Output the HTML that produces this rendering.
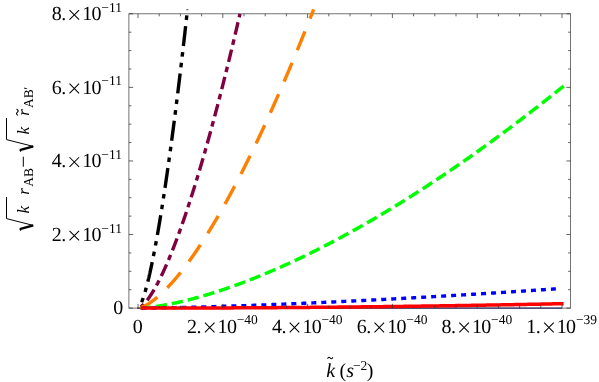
<!DOCTYPE html>
<html><head><meta charset="utf-8"><title>plot</title><style>
html,body{margin:0;padding:0;background:#fff;}body{width:599px;height:382px;overflow:hidden;font-family:"Liberation Serif",serif;}svg{display:block;}
</style></head><body>
<svg width="599" height="382" viewBox="0 0 599 382">
<rect x="0" y="0" width="599" height="382" fill="#fff"/>
<rect x="128.9" y="13.8" width="441.7" height="294.3" fill="none" stroke="#505050" stroke-width="0.8"/>
<line x1="137.0" y1="308.1" x2="562.0" y2="308.1" stroke="#33336b" stroke-width="1.1"/>
<path d="M140.50,304.71 L140.62,304.47 L140.73,304.22 L140.85,303.97 L140.97,303.72 L141.08,303.46 L141.20,303.19 L141.32,302.92 L141.43,302.65 L141.55,302.37 L141.66,302.08 L141.78,301.80 L141.90,301.50 L142.01,301.21 L142.13,300.90 L142.25,300.60 L142.36,300.29 L142.48,299.97 L142.59,299.65 L142.71,299.33 L142.83,299.00 L142.94,298.67 L143.06,298.34 L143.18,298.00 L143.29,297.66 L143.41,297.31 L143.53,296.96 L143.64,296.61 L143.76,296.25 L143.87,295.89 L143.99,295.53 L144.11,295.16 L144.22,294.79 L144.34,294.41 L144.46,294.04 L144.57,293.65 L144.69,293.27 L144.80,292.88 L144.92,292.49 L145.04,292.09 L145.15,291.69 L145.27,291.29 L145.39,290.89 L145.50,290.48 L145.62,290.07 L145.74,289.65 L145.85,289.24 L145.97,288.82 L146.08,288.39 L146.20,287.96 L146.32,287.53 L146.43,287.10 L146.55,286.67 L146.67,286.23 L146.78,285.79 L146.90,285.34 L147.01,284.89 L147.13,284.44 L147.25,283.99 L147.36,283.53 L147.48,283.07 L147.60,282.61 L147.71,282.15 L147.83,281.68 L147.94,281.21 L148.06,280.74 L148.18,280.26 L148.29,279.78 L148.41,279.30 L148.53,278.82 L148.64,278.33 L148.76,277.84 L148.88,277.35 L148.99,276.85 L149.11,276.36 L149.22,275.86 L149.34,275.35 L149.46,274.85 L149.57,274.34 L149.69,273.83 L149.81,273.32 L149.92,272.80 L150.04,272.29 L150.15,271.77 L150.27,271.24 L150.39,270.72 L150.50,270.19 L150.62,269.66 L150.74,269.13 L150.85,268.59 L150.97,268.05 L151.08,267.51 L151.20,266.97 L151.32,266.43 L151.43,265.88 L151.55,265.33 L151.67,264.78 L151.78,264.23 L151.90,263.67 L152.02,263.11 L152.13,262.55 L152.25,261.99 L152.36,261.42 L152.48,260.85 L152.60,260.28 L152.71,259.71 L152.83,259.13 L152.95,258.56 L153.06,257.98 L153.18,257.40 L153.29,256.81 L153.41,256.23 L153.53,255.64 L153.64,255.05 L153.76,254.45 L153.88,253.86 L153.99,253.26 L154.11,252.66 L154.22,252.06 L154.34,251.46 L154.46,250.85 L154.57,250.24 L154.69,249.63 L154.81,249.02 L154.92,248.41 L155.04,247.79 L155.16,247.17 L155.27,246.55 L155.39,245.93 L155.50,245.30 L155.62,244.68 L155.74,244.05 L155.85,243.42 L155.97,242.78 L156.09,242.15 L156.20,241.51 L156.32,240.87 L156.43,240.23 L156.55,239.59 L156.67,238.94 L156.78,238.30 L156.90,237.65 L157.02,237.00 L157.13,236.34 L157.25,235.69 L157.36,235.03 L157.48,234.37 L157.60,233.71 L157.71,233.05 L157.83,232.38 L157.95,231.71 L158.06,231.05 L158.18,230.37 L158.30,229.70 L158.41,229.03 L158.53,228.35 L158.64,227.67 L158.76,226.99 L158.88,226.31 L158.99,225.62 L159.11,224.94 L159.23,224.25 L159.34,223.56 L159.46,222.87 L159.57,222.17 L159.69,221.48 L159.81,220.78 L159.92,220.08 L160.04,219.38 L160.16,218.68 L160.27,217.97 L160.39,217.26 L160.50,216.56 L160.62,215.84 L160.74,215.13 L160.85,214.42 L160.97,213.70 L161.09,212.98 L161.20,212.26 L161.32,211.54 L161.44,210.82 L161.55,210.09 L161.67,209.37 L161.78,208.64 L161.90,207.91 L162.02,207.18 L162.13,206.44 L162.25,205.71 L162.37,204.97 L162.48,204.23 L162.60,203.49 L162.71,202.75 L162.83,202.00 L162.95,201.26 L163.06,200.51 L163.18,199.76 L163.30,199.01 L163.41,198.25 L163.53,197.50 L163.65,196.74 L163.76,195.98 L163.88,195.22 L163.99,194.46 L164.11,193.70 L164.23,192.93 L164.34,192.17 L164.46,191.40 L164.58,190.63 L164.69,189.86 L164.81,189.08 L164.92,188.31 L165.04,187.53 L165.16,186.75 L165.27,185.97 L165.39,185.19 L165.51,184.40 L165.62,183.62 L165.74,182.83 L165.85,182.04 L165.97,181.25 L166.09,180.46 L166.20,179.67 L166.32,178.87 L166.44,178.08 L166.55,177.28 L166.67,176.48 L166.79,175.68 L166.90,174.87 L167.02,174.07 L167.13,173.26 L167.25,172.45 L167.37,171.64 L167.48,170.83 L167.60,170.02 L167.72,169.20 L167.83,168.39 L167.95,167.57 L168.06,166.75 L168.18,165.93 L168.30,165.11 L168.41,164.28 L168.53,163.46 L168.65,162.63 L168.76,161.80 L168.88,160.97 L168.99,160.14 L169.11,159.30 L169.23,158.47 L169.34,157.63 L169.46,156.79 L169.58,155.96 L169.69,155.11 L169.81,154.27 L169.93,153.43 L170.04,152.58 L170.16,151.73 L170.27,150.88 L170.39,150.03 L170.51,149.18 L170.62,148.33 L170.74,147.47 L170.86,146.62 L170.97,145.76 L171.09,144.90 L171.20,144.04 L171.32,143.17 L171.44,142.31 L171.55,141.44 L171.67,140.58 L171.79,139.71 L171.90,138.84 L172.02,137.97 L172.13,137.09 L172.25,136.22 L172.37,135.34 L172.48,134.46 L172.60,133.59 L172.72,132.71 L172.83,131.82 L172.95,130.94 L173.07,130.05 L173.18,129.17 L173.30,128.28 L173.41,127.39 L173.53,126.50 L173.65,125.61 L173.76,124.71 L173.88,123.82 L174.00,122.92 L174.11,122.02 L174.23,121.12 L174.34,120.22 L174.46,119.32 L174.58,118.42 L174.69,117.51 L174.81,116.60 L174.93,115.70 L175.04,114.79 L175.16,113.87 L175.27,112.96 L175.39,112.05 L175.51,111.13 L175.62,110.22 L175.74,109.30 L175.86,108.38 L175.97,107.46 L176.09,106.53 L176.21,105.61 L176.32,104.69 L176.44,103.76 L176.55,102.83 L176.67,101.90 L176.79,100.97 L176.90,100.04 L177.02,99.10 L177.14,98.17 L177.25,97.23 L177.37,96.30 L177.48,95.36 L177.60,94.42 L177.72,93.47 L177.83,92.53 L177.95,91.59 L178.07,90.64 L178.18,89.69 L178.30,88.74 L178.41,87.79 L178.53,86.84 L178.65,85.89 L178.76,84.93 L178.88,83.98 L179.00,83.02 L179.11,82.06 L179.23,81.10 L179.35,80.14 L179.46,79.18 L179.58,78.21 L179.69,77.25 L179.81,76.28 L179.93,75.32 L180.04,74.35 L180.16,73.38 L180.28,72.40 L180.39,71.43 L180.51,70.46 L180.62,69.48 L180.74,68.50 L180.86,67.52 L180.97,66.54 L181.09,65.56 L181.21,64.58 L181.32,63.60 L181.44,62.61 L181.56,61.62 L181.67,60.64 L181.79,59.65 L181.90,58.66 L182.02,57.67 L182.14,56.67 L182.25,55.68 L182.37,54.68 L182.49,53.69 L182.60,52.69 L182.72,51.69 L182.83,50.69 L182.95,49.68 L183.07,48.68 L183.18,47.68 L183.30,46.67 L183.42,45.66 L183.53,44.65 L183.65,43.64 L183.76,42.63 L183.88,41.62 L184.00,40.61 L184.11,39.59 L184.23,38.57 L184.35,37.56 L184.46,36.54 L184.58,35.52 L184.70,34.50 L184.81,33.47 L184.93,32.45 L185.04,31.42 L185.16,30.40 L185.28,29.37 L185.39,28.34 L185.51,27.31 L185.63,26.28 L185.74,25.24 L185.86,24.21 L185.97,23.18 L186.09,22.14 L186.21,21.10 L186.32,20.06 L186.44,19.02 L186.56,17.98 L186.67,16.94 L186.79,15.89 L186.90,14.85 L187.02,13.80" fill="none" stroke="#000000" stroke-width="3.4" stroke-dasharray="20 6.2 4.55 6.2 4.55 6.2" stroke-dashoffset="23.5"/>
<path d="M140.50,306.97 L140.75,306.80 L141.00,306.62 L141.25,306.43 L141.50,306.23 L141.75,306.03 L141.99,305.82 L142.24,305.60 L142.49,305.38 L142.74,305.15 L142.99,304.92 L143.24,304.68 L143.49,304.43 L143.74,304.18 L143.98,303.92 L144.23,303.65 L144.48,303.39 L144.73,303.11 L144.98,302.83 L145.23,302.55 L145.48,302.26 L145.73,301.97 L145.97,301.67 L146.22,301.36 L146.47,301.06 L146.72,300.74 L146.97,300.43 L147.22,300.10 L147.47,299.78 L147.72,299.45 L147.96,299.11 L148.21,298.78 L148.46,298.43 L148.71,298.09 L148.96,297.74 L149.21,297.38 L149.46,297.02 L149.71,296.66 L149.95,296.29 L150.20,295.92 L150.45,295.55 L150.70,295.17 L150.95,294.79 L151.20,294.40 L151.45,294.01 L151.70,293.62 L151.94,293.22 L152.19,292.82 L152.44,292.42 L152.69,292.01 L152.94,291.60 L153.19,291.19 L153.44,290.77 L153.69,290.35 L153.93,289.93 L154.18,289.50 L154.43,289.07 L154.68,288.64 L154.93,288.20 L155.18,287.76 L155.43,287.32 L155.68,286.87 L155.92,286.42 L156.17,285.97 L156.42,285.51 L156.67,285.05 L156.92,284.59 L157.17,284.13 L157.42,283.66 L157.67,283.19 L157.91,282.71 L158.16,282.24 L158.41,281.76 L158.66,281.27 L158.91,280.79 L159.16,280.30 L159.41,279.81 L159.66,279.31 L159.90,278.81 L160.15,278.31 L160.40,277.81 L160.65,277.30 L160.90,276.80 L161.15,276.28 L161.40,275.77 L161.65,275.25 L161.89,274.73 L162.14,274.21 L162.39,273.69 L162.64,273.16 L162.89,272.63 L163.14,272.09 L163.39,271.56 L163.64,271.02 L163.88,270.48 L164.13,269.94 L164.38,269.39 L164.63,268.84 L164.88,268.29 L165.13,267.74 L165.38,267.18 L165.63,266.62 L165.87,266.06 L166.12,265.49 L166.37,264.93 L166.62,264.36 L166.87,263.79 L167.12,263.21 L167.37,262.64 L167.62,262.06 L167.86,261.48 L168.11,260.89 L168.36,260.31 L168.61,259.72 L168.86,259.13 L169.11,258.53 L169.36,257.94 L169.61,257.34 L169.85,256.74 L170.10,256.14 L170.35,255.53 L170.60,254.92 L170.85,254.31 L171.10,253.70 L171.35,253.09 L171.60,252.47 L171.84,251.85 L172.09,251.23 L172.34,250.61 L172.59,249.98 L172.84,249.35 L173.09,248.72 L173.34,248.09 L173.59,247.46 L173.83,246.82 L174.08,246.18 L174.33,245.54 L174.58,244.89 L174.83,244.25 L175.08,243.60 L175.33,242.95 L175.58,242.30 L175.82,241.64 L176.07,240.99 L176.32,240.33 L176.57,239.67 L176.82,239.00 L177.07,238.34 L177.32,237.67 L177.57,237.00 L177.81,236.33 L178.06,235.66 L178.31,234.98 L178.56,234.30 L178.81,233.62 L179.06,232.94 L179.31,232.26 L179.56,231.57 L179.80,230.88 L180.05,230.19 L180.30,229.50 L180.55,228.81 L180.80,228.11 L181.05,227.41 L181.30,226.71 L181.55,226.01 L181.79,225.31 L182.04,224.60 L182.29,223.89 L182.54,223.18 L182.79,222.47 L183.04,221.75 L183.29,221.04 L183.54,220.32 L183.78,219.60 L184.03,218.88 L184.28,218.15 L184.53,217.43 L184.78,216.70 L185.03,215.97 L185.28,215.24 L185.53,214.50 L185.77,213.77 L186.02,213.03 L186.27,212.29 L186.52,211.55 L186.77,210.80 L187.02,210.06 L187.27,209.31 L187.52,208.56 L187.76,207.81 L188.01,207.06 L188.26,206.30 L188.51,205.55 L188.76,204.79 L189.01,204.03 L189.26,203.27 L189.51,202.50 L189.75,201.74 L190.00,200.97 L190.25,200.20 L190.50,199.43 L190.75,198.65 L191.00,197.88 L191.25,197.10 L191.50,196.32 L191.74,195.54 L191.99,194.76 L192.24,193.98 L192.49,193.19 L192.74,192.40 L192.99,191.61 L193.24,190.82 L193.49,190.03 L193.73,189.23 L193.98,188.44 L194.23,187.64 L194.48,186.84 L194.73,186.04 L194.98,185.23 L195.23,184.43 L195.48,183.62 L195.72,182.81 L195.97,182.00 L196.22,181.19 L196.47,180.37 L196.72,179.56 L196.97,178.74 L197.22,177.92 L197.47,177.10 L197.71,176.28 L197.96,175.45 L198.21,174.62 L198.46,173.80 L198.71,172.97 L198.96,172.14 L199.21,171.30 L199.46,170.47 L199.70,169.63 L199.95,168.79 L200.20,167.95 L200.45,167.11 L200.70,166.27 L200.95,165.42 L201.20,164.58 L201.45,163.73 L201.69,162.88 L201.94,162.03 L202.19,161.17 L202.44,160.32 L202.69,159.46 L202.94,158.61 L203.19,157.75 L203.44,156.88 L203.68,156.02 L203.93,155.16 L204.18,154.29 L204.43,153.42 L204.68,152.55 L204.93,151.68 L205.18,150.81 L205.43,149.93 L205.67,149.06 L205.92,148.18 L206.17,147.30 L206.42,146.42 L206.67,145.54 L206.92,144.65 L207.17,143.77 L207.42,142.88 L207.66,141.99 L207.91,141.10 L208.16,140.21 L208.41,139.31 L208.66,138.42 L208.91,137.52 L209.16,136.62 L209.41,135.72 L209.65,134.82 L209.90,133.92 L210.15,133.02 L210.40,132.11 L210.65,131.20 L210.90,130.29 L211.15,129.38 L211.40,128.47 L211.64,127.55 L211.89,126.64 L212.14,125.72 L212.39,124.80 L212.64,123.88 L212.89,122.96 L213.14,122.04 L213.39,121.11 L213.63,120.19 L213.88,119.26 L214.13,118.33 L214.38,117.40 L214.63,116.47 L214.88,115.53 L215.13,114.60 L215.38,113.66 L215.62,112.72 L215.87,111.78 L216.12,110.84 L216.37,109.90 L216.62,108.95 L216.87,108.01 L217.12,107.06 L217.37,106.11 L217.61,105.16 L217.86,104.21 L218.11,103.26 L218.36,102.30 L218.61,101.35 L218.86,100.39 L219.11,99.43 L219.36,98.47 L219.60,97.51 L219.85,96.54 L220.10,95.58 L220.35,94.61 L220.60,93.64 L220.85,92.67 L221.10,91.70 L221.35,90.73 L221.59,89.76 L221.84,88.78 L222.09,87.80 L222.34,86.82 L222.59,85.85 L222.84,84.86 L223.09,83.88 L223.34,82.90 L223.58,81.91 L223.83,80.93 L224.08,79.94 L224.33,78.95 L224.58,77.96 L224.83,76.96 L225.08,75.97 L225.33,74.97 L225.57,73.98 L225.82,72.98 L226.07,71.98 L226.32,70.98 L226.57,69.98 L226.82,68.97 L227.07,67.97 L227.32,66.96 L227.56,65.95 L227.81,64.94 L228.06,63.93 L228.31,62.92 L228.56,61.91 L228.81,60.89 L229.06,59.87 L229.31,58.86 L229.55,57.84 L229.80,56.82 L230.05,55.79 L230.30,54.77 L230.55,53.75 L230.80,52.72 L231.05,51.69 L231.30,50.66 L231.54,49.63 L231.79,48.60 L232.04,47.57 L232.29,46.53 L232.54,45.50 L232.79,44.46 L233.04,43.42 L233.29,42.38 L233.53,41.34 L233.78,40.30 L234.03,39.26 L234.28,38.21 L234.53,37.16 L234.78,36.12 L235.03,35.07 L235.28,34.02 L235.52,32.96 L235.77,31.91 L236.02,30.86 L236.27,29.80 L236.52,28.74 L236.77,27.68 L237.02,26.62 L237.27,25.56 L237.51,24.50 L237.76,23.44 L238.01,22.37 L238.26,21.30 L238.51,20.24 L238.76,19.17 L239.01,18.10 L239.26,17.02 L239.50,15.95 L239.75,14.88 L240.00,13.80" fill="none" stroke="#800040" stroke-width="3.4" stroke-dasharray="12.7 4.95 5.5 4.95" stroke-dashoffset="18.7"/>
<path d="M140.50,307.59 L140.93,307.46 L141.37,307.31 L141.80,307.15 L142.23,306.98 L142.67,306.81 L143.10,306.62 L143.53,306.43 L143.96,306.23 L144.40,306.02 L144.83,305.81 L145.26,305.59 L145.70,305.36 L146.13,305.13 L146.56,304.89 L147.00,304.64 L147.43,304.39 L147.86,304.13 L148.29,303.86 L148.73,303.59 L149.16,303.32 L149.59,303.04 L150.03,302.75 L150.46,302.46 L150.89,302.16 L151.32,301.86 L151.76,301.55 L152.19,301.24 L152.62,300.93 L153.06,300.60 L153.49,300.28 L153.92,299.95 L154.35,299.61 L154.79,299.28 L155.22,298.93 L155.65,298.58 L156.09,298.23 L156.52,297.87 L156.95,297.51 L157.38,297.15 L157.82,296.78 L158.25,296.41 L158.68,296.03 L159.12,295.65 L159.55,295.27 L159.98,294.88 L160.42,294.48 L160.85,294.09 L161.28,293.69 L161.71,293.28 L162.15,292.88 L162.58,292.46 L163.01,292.05 L163.45,291.63 L163.88,291.21 L164.31,290.78 L164.74,290.35 L165.18,289.92 L165.61,289.49 L166.04,289.05 L166.48,288.60 L166.91,288.16 L167.34,287.71 L167.77,287.25 L168.21,286.80 L168.64,286.34 L169.07,285.88 L169.51,285.41 L169.94,284.94 L170.37,284.47 L170.80,283.99 L171.24,283.51 L171.67,283.03 L172.10,282.55 L172.54,282.06 L172.97,281.57 L173.40,281.07 L173.84,280.58 L174.27,280.08 L174.70,279.57 L175.13,279.07 L175.57,278.56 L176.00,278.05 L176.43,277.53 L176.87,277.01 L177.30,276.49 L177.73,275.97 L178.16,275.44 L178.60,274.91 L179.03,274.38 L179.46,273.84 L179.90,273.31 L180.33,272.77 L180.76,272.22 L181.19,271.68 L181.63,271.13 L182.06,270.58 L182.49,270.02 L182.93,269.46 L183.36,268.90 L183.79,268.34 L184.22,267.78 L184.66,267.21 L185.09,266.64 L185.52,266.07 L185.96,265.49 L186.39,264.91 L186.82,264.33 L187.25,263.75 L187.69,263.16 L188.12,262.57 L188.55,261.98 L188.99,261.39 L189.42,260.79 L189.85,260.19 L190.29,259.59 L190.72,258.99 L191.15,258.38 L191.58,257.77 L192.02,257.16 L192.45,256.55 L192.88,255.93 L193.32,255.32 L193.75,254.69 L194.18,254.07 L194.61,253.45 L195.05,252.82 L195.48,252.19 L195.91,251.55 L196.35,250.92 L196.78,250.28 L197.21,249.64 L197.64,249.00 L198.08,248.35 L198.51,247.71 L198.94,247.06 L199.38,246.41 L199.81,245.75 L200.24,245.10 L200.67,244.44 L201.11,243.78 L201.54,243.11 L201.97,242.45 L202.41,241.78 L202.84,241.11 L203.27,240.44 L203.71,239.77 L204.14,239.09 L204.57,238.41 L205.00,237.73 L205.44,237.05 L205.87,236.36 L206.30,235.67 L206.74,234.98 L207.17,234.29 L207.60,233.60 L208.03,232.90 L208.47,232.20 L208.90,231.50 L209.33,230.80 L209.77,230.10 L210.20,229.39 L210.63,228.68 L211.06,227.97 L211.50,227.26 L211.93,226.54 L212.36,225.82 L212.80,225.10 L213.23,224.38 L213.66,223.66 L214.09,222.93 L214.53,222.21 L214.96,221.48 L215.39,220.74 L215.83,220.01 L216.26,219.27 L216.69,218.54 L217.13,217.80 L217.56,217.05 L217.99,216.31 L218.42,215.56 L218.86,214.81 L219.29,214.06 L219.72,213.31 L220.16,212.56 L220.59,211.80 L221.02,211.04 L221.45,210.28 L221.89,209.52 L222.32,208.76 L222.75,207.99 L223.19,207.22 L223.62,206.45 L224.05,205.68 L224.48,204.91 L224.92,204.13 L225.35,203.35 L225.78,202.57 L226.22,201.79 L226.65,201.01 L227.08,200.22 L227.51,199.44 L227.95,198.65 L228.38,197.86 L228.81,197.06 L229.25,196.27 L229.68,195.47 L230.11,194.67 L230.55,193.87 L230.98,193.07 L231.41,192.27 L231.84,191.46 L232.28,190.65 L232.71,189.84 L233.14,189.03 L233.58,188.22 L234.01,187.40 L234.44,186.58 L234.87,185.77 L235.31,184.94 L235.74,184.12 L236.17,183.30 L236.61,182.47 L237.04,181.64 L237.47,180.81 L237.90,179.98 L238.34,179.15 L238.77,178.31 L239.20,177.47 L239.64,176.63 L240.07,175.79 L240.50,174.95 L240.93,174.11 L241.37,173.26 L241.80,172.41 L242.23,171.56 L242.67,170.71 L243.10,169.86 L243.53,169.00 L243.97,168.15 L244.40,167.29 L244.83,166.43 L245.26,165.57 L245.70,164.70 L246.13,163.84 L246.56,162.97 L247.00,162.10 L247.43,161.23 L247.86,160.36 L248.29,159.48 L248.73,158.61 L249.16,157.73 L249.59,156.85 L250.03,155.97 L250.46,155.09 L250.89,154.20 L251.32,153.32 L251.76,152.43 L252.19,151.54 L252.62,150.65 L253.06,149.76 L253.49,148.86 L253.92,147.96 L254.35,147.07 L254.79,146.17 L255.22,145.27 L255.65,144.36 L256.09,143.46 L256.52,142.55 L256.95,141.64 L257.39,140.74 L257.82,139.82 L258.25,138.91 L258.68,138.00 L259.12,137.08 L259.55,136.16 L259.98,135.24 L260.42,134.32 L260.85,133.40 L261.28,132.48 L261.71,131.55 L262.15,130.62 L262.58,129.69 L263.01,128.76 L263.45,127.83 L263.88,126.90 L264.31,125.96 L264.74,125.02 L265.18,124.09 L265.61,123.14 L266.04,122.20 L266.48,121.26 L266.91,120.31 L267.34,119.37 L267.77,118.42 L268.21,117.47 L268.64,116.52 L269.07,115.56 L269.51,114.61 L269.94,113.65 L270.37,112.70 L270.80,111.74 L271.24,110.78 L271.67,109.81 L272.10,108.85 L272.54,107.88 L272.97,106.92 L273.40,105.95 L273.84,104.98 L274.27,104.01 L274.70,103.03 L275.13,102.06 L275.57,101.08 L276.00,100.10 L276.43,99.12 L276.87,98.14 L277.30,97.16 L277.73,96.18 L278.16,95.19 L278.60,94.20 L279.03,93.21 L279.46,92.22 L279.90,91.23 L280.33,90.24 L280.76,89.25 L281.19,88.25 L281.63,87.25 L282.06,86.25 L282.49,85.25 L282.93,84.25 L283.36,83.25 L283.79,82.24 L284.22,81.23 L284.66,80.23 L285.09,79.22 L285.52,78.20 L285.96,77.19 L286.39,76.18 L286.82,75.16 L287.26,74.14 L287.69,73.13 L288.12,72.11 L288.55,71.08 L288.99,70.06 L289.42,69.04 L289.85,68.01 L290.29,66.98 L290.72,65.95 L291.15,64.92 L291.58,63.89 L292.02,62.86 L292.45,61.82 L292.88,60.79 L293.32,59.75 L293.75,58.71 L294.18,57.67 L294.61,56.63 L295.05,55.59 L295.48,54.54 L295.91,53.50 L296.35,52.45 L296.78,51.40 L297.21,50.35 L297.64,49.30 L298.08,48.24 L298.51,47.19 L298.94,46.13 L299.38,45.07 L299.81,44.01 L300.24,42.95 L300.68,41.89 L301.11,40.83 L301.54,39.76 L301.97,38.70 L302.41,37.63 L302.84,36.56 L303.27,35.49 L303.71,34.42 L304.14,33.35 L304.57,32.27 L305.00,31.20 L305.44,30.12 L305.87,29.04 L306.30,27.96 L306.74,26.88 L307.17,25.79 L307.60,24.71 L308.03,23.62 L308.47,22.54 L308.90,21.45 L309.33,20.36 L309.77,19.27 L310.20,18.18 L310.63,17.08 L311.06,15.99 L311.50,14.89 L311.93,13.79 L312.36,12.69 L312.80,11.59 L313.23,10.49 L313.66,9.39" fill="none" stroke="#ff8000" stroke-width="3.4" stroke-dasharray="20.3 13.7" stroke-dashoffset="0.4"/>
<path d="M140.50,308.02 L141.56,307.96 L142.62,307.90 L143.67,307.82 L144.73,307.73 L145.79,307.64 L146.85,307.54 L147.91,307.43 L148.96,307.32 L150.02,307.20 L151.08,307.08 L152.14,306.95 L153.19,306.81 L154.25,306.67 L155.31,306.52 L156.37,306.37 L157.43,306.22 L158.48,306.05 L159.54,305.89 L160.60,305.72 L161.66,305.55 L162.71,305.37 L163.77,305.18 L164.83,305.00 L165.89,304.81 L166.95,304.61 L168.00,304.41 L169.06,304.21 L170.12,304.00 L171.18,303.79 L172.23,303.58 L173.29,303.36 L174.35,303.14 L175.41,302.91 L176.47,302.69 L177.52,302.45 L178.58,302.22 L179.64,301.98 L180.70,301.74 L181.75,301.49 L182.81,301.25 L183.87,300.99 L184.93,300.74 L185.99,300.48 L187.04,300.22 L188.10,299.96 L189.16,299.69 L190.22,299.42 L191.27,299.15 L192.33,298.87 L193.39,298.59 L194.45,298.31 L195.51,298.02 L196.56,297.74 L197.62,297.44 L198.68,297.15 L199.74,296.85 L200.79,296.56 L201.85,296.25 L202.91,295.95 L203.97,295.64 L205.03,295.33 L206.08,295.02 L207.14,294.70 L208.20,294.39 L209.26,294.07 L210.31,293.74 L211.37,293.42 L212.43,293.09 L213.49,292.76 L214.55,292.42 L215.60,292.09 L216.66,291.75 L217.72,291.41 L218.78,291.07 L219.83,290.72 L220.89,290.37 L221.95,290.02 L223.01,289.67 L224.07,289.31 L225.12,288.95 L226.18,288.59 L227.24,288.23 L228.30,287.87 L229.35,287.50 L230.41,287.13 L231.47,286.76 L232.53,286.38 L233.59,286.01 L234.64,285.63 L235.70,285.25 L236.76,284.86 L237.82,284.48 L238.87,284.09 L239.93,283.70 L240.99,283.31 L242.05,282.91 L243.11,282.52 L244.16,282.12 L245.22,281.72 L246.28,281.31 L247.34,280.91 L248.39,280.50 L249.45,280.09 L250.51,279.68 L251.57,279.26 L252.63,278.85 L253.68,278.43 L254.74,278.01 L255.80,277.59 L256.86,277.16 L257.91,276.74 L258.97,276.31 L260.03,275.88 L261.09,275.44 L262.15,275.01 L263.20,274.57 L264.26,274.13 L265.32,273.69 L266.38,273.25 L267.43,272.81 L268.49,272.36 L269.55,271.91 L270.61,271.46 L271.67,271.01 L272.72,270.55 L273.78,270.10 L274.84,269.64 L275.90,269.18 L276.95,268.72 L278.01,268.25 L279.07,267.79 L280.13,267.32 L281.19,266.85 L282.24,266.38 L283.30,265.90 L284.36,265.43 L285.42,264.95 L286.47,264.47 L287.53,263.99 L288.59,263.51 L289.65,263.02 L290.71,262.54 L291.76,262.05 L292.82,261.56 L293.88,261.06 L294.94,260.57 L295.99,260.07 L297.05,259.58 L298.11,259.08 L299.17,258.58 L300.23,258.07 L301.28,257.57 L302.34,257.06 L303.40,256.55 L304.46,256.04 L305.51,255.53 L306.57,255.02 L307.63,254.50 L308.69,253.98 L309.75,253.47 L310.80,252.94 L311.86,252.42 L312.92,251.90 L313.98,251.37 L315.03,250.84 L316.09,250.31 L317.15,249.78 L318.21,249.25 L319.27,248.72 L320.32,248.18 L321.38,247.64 L322.44,247.10 L323.50,246.56 L324.55,246.02 L325.61,245.47 L326.67,244.93 L327.73,244.38 L328.79,243.83 L329.84,243.28 L330.90,242.72 L331.96,242.17 L333.02,241.61 L334.07,241.06 L335.13,240.50 L336.19,239.93 L337.25,239.37 L338.31,238.81 L339.36,238.24 L340.42,237.67 L341.48,237.10 L342.54,236.53 L343.59,235.96 L344.65,235.39 L345.71,234.81 L346.77,234.23 L347.83,233.65 L348.88,233.07 L349.94,232.49 L351.00,231.91 L352.06,231.32 L353.11,230.73 L354.17,230.15 L355.23,229.56 L356.29,228.96 L357.35,228.37 L358.40,227.78 L359.46,227.18 L360.52,226.58 L361.58,225.98 L362.63,225.38 L363.69,224.78 L364.75,224.18 L365.81,223.57 L366.87,222.96 L367.92,222.35 L368.98,221.74 L370.04,221.13 L371.10,220.52 L372.15,219.90 L373.21,219.29 L374.27,218.67 L375.33,218.05 L376.39,217.43 L377.44,216.81 L378.50,216.18 L379.56,215.56 L380.62,214.93 L381.67,214.30 L382.73,213.67 L383.79,213.04 L384.85,212.41 L385.91,211.77 L386.96,211.14 L388.02,210.50 L389.08,209.86 L390.14,209.22 L391.19,208.58 L392.25,207.94 L393.31,207.29 L394.37,206.65 L395.43,206.00 L396.48,205.35 L397.54,204.70 L398.60,204.05 L399.66,203.40 L400.71,202.74 L401.77,202.08 L402.83,201.43 L403.89,200.77 L404.95,200.11 L406.00,199.45 L407.06,198.78 L408.12,198.12 L409.18,197.45 L410.23,196.78 L411.29,196.12 L412.35,195.44 L413.41,194.77 L414.47,194.10 L415.52,193.43 L416.58,192.75 L417.64,192.07 L418.70,191.39 L419.75,190.71 L420.81,190.03 L421.87,189.35 L422.93,188.66 L423.99,187.98 L425.04,187.29 L426.10,186.60 L427.16,185.91 L428.22,185.22 L429.27,184.53 L430.33,183.83 L431.39,183.14 L432.45,182.44 L433.50,181.74 L434.56,181.05 L435.62,180.34 L436.68,179.64 L437.74,178.94 L438.79,178.23 L439.85,177.53 L440.91,176.82 L441.97,176.11 L443.02,175.40 L444.08,174.69 L445.14,173.98 L446.20,173.26 L447.26,172.55 L448.31,171.83 L449.37,171.11 L450.43,170.39 L451.49,169.67 L452.54,168.95 L453.60,168.22 L454.66,167.50 L455.72,166.77 L456.78,166.04 L457.83,165.32 L458.89,164.59 L459.95,163.85 L461.01,163.12 L462.06,162.39 L463.12,161.65 L464.18,160.91 L465.24,160.18 L466.30,159.44 L467.35,158.70 L468.41,157.95 L469.47,157.21 L470.53,156.47 L471.58,155.72 L472.64,154.97 L473.70,154.23 L474.76,153.48 L475.82,152.72 L476.87,151.97 L477.93,151.22 L478.99,150.46 L480.05,149.71 L481.10,148.95 L482.16,148.19 L483.22,147.43 L484.28,146.67 L485.34,145.91 L486.39,145.14 L487.45,144.38 L488.51,143.61 L489.57,142.85 L490.62,142.08 L491.68,141.31 L492.74,140.54 L493.80,139.76 L494.86,138.99 L495.91,138.21 L496.97,137.44 L498.03,136.66 L499.09,135.88 L500.14,135.10 L501.20,134.32 L502.26,133.54 L503.32,132.75 L504.38,131.97 L505.43,131.18 L506.49,130.39 L507.55,129.61 L508.61,128.82 L509.66,128.02 L510.72,127.23 L511.78,126.44 L512.84,125.64 L513.90,124.85 L514.95,124.05 L516.01,123.25 L517.07,122.45 L518.13,121.65 L519.18,120.85 L520.24,120.04 L521.30,119.24 L522.36,118.43 L523.42,117.63 L524.47,116.82 L525.53,116.01 L526.59,115.20 L527.65,114.39 L528.70,113.57 L529.76,112.76 L530.82,111.94 L531.88,111.13 L532.94,110.31 L533.99,109.49 L535.05,108.67 L536.11,107.85 L537.17,107.03 L538.22,106.20 L539.28,105.38 L540.34,104.55 L541.40,103.72 L542.46,102.90 L543.51,102.07 L544.57,101.23 L545.63,100.40 L546.69,99.57 L547.74,98.73 L548.80,97.90 L549.86,97.06 L550.92,96.22 L551.98,95.39 L553.03,94.55 L554.09,93.70 L555.15,92.86 L556.21,92.02 L557.26,91.17 L558.32,90.33 L559.38,89.48 L560.44,88.63 L561.50,87.78 L562.55,86.93 L563.61,86.08" fill="none" stroke="#00ff00" stroke-width="3.5" stroke-dasharray="11.4 4.92" stroke-dashoffset="1.06"/>
<path d="M140.50,308.09 L141.55,308.08 L142.60,308.08 L143.65,308.07 L144.70,308.06 L145.75,308.05 L146.80,308.04 L147.85,308.03 L148.90,308.02 L149.95,308.01 L151.00,307.99 L152.05,307.98 L153.10,307.97 L154.15,307.95 L155.20,307.94 L156.25,307.92 L157.30,307.91 L158.35,307.89 L159.40,307.88 L160.45,307.86 L161.50,307.84 L162.55,307.83 L163.60,307.81 L164.65,307.79 L165.70,307.77 L166.75,307.75 L167.80,307.73 L168.85,307.71 L169.90,307.69 L170.95,307.67 L172.00,307.65 L173.05,307.63 L174.10,307.61 L175.15,307.59 L176.20,307.57 L177.25,307.55 L178.30,307.52 L179.35,307.50 L180.40,307.48 L181.45,307.45 L182.50,307.43 L183.55,307.41 L184.60,307.38 L185.65,307.36 L186.70,307.33 L187.75,307.31 L188.80,307.28 L189.85,307.26 L190.90,307.23 L191.95,307.21 L193.00,307.18 L194.05,307.15 L195.10,307.13 L196.15,307.10 L197.20,307.07 L198.25,307.05 L199.30,307.02 L200.35,306.99 L201.40,306.96 L202.45,306.93 L203.50,306.90 L204.55,306.88 L205.60,306.85 L206.65,306.82 L207.70,306.79 L208.75,306.76 L209.80,306.73 L210.85,306.70 L211.90,306.67 L212.95,306.64 L214.00,306.61 L215.05,306.58 L216.10,306.54 L217.15,306.51 L218.20,306.48 L219.25,306.45 L220.30,306.42 L221.35,306.38 L222.40,306.35 L223.45,306.32 L224.50,306.29 L225.55,306.25 L226.60,306.22 L227.65,306.19 L228.70,306.15 L229.75,306.12 L230.80,306.08 L231.85,306.05 L232.90,306.02 L233.95,305.98 L235.00,305.95 L236.05,305.91 L237.10,305.88 L238.15,305.84 L239.20,305.80 L240.26,305.77 L241.31,305.73 L242.36,305.70 L243.41,305.66 L244.46,305.62 L245.51,305.59 L246.56,305.55 L247.61,305.51 L248.66,305.48 L249.71,305.44 L250.76,305.40 L251.81,305.36 L252.86,305.33 L253.91,305.29 L254.96,305.25 L256.01,305.21 L257.06,305.17 L258.11,305.13 L259.16,305.09 L260.21,305.05 L261.26,305.02 L262.31,304.98 L263.36,304.94 L264.41,304.90 L265.46,304.86 L266.51,304.82 L267.56,304.78 L268.61,304.74 L269.66,304.69 L270.71,304.65 L271.76,304.61 L272.81,304.57 L273.86,304.53 L274.91,304.49 L275.96,304.45 L277.01,304.41 L278.06,304.36 L279.11,304.32 L280.16,304.28 L281.21,304.24 L282.26,304.19 L283.31,304.15 L284.36,304.11 L285.41,304.07 L286.46,304.02 L287.51,303.98 L288.56,303.94 L289.61,303.89 L290.66,303.85 L291.71,303.80 L292.76,303.76 L293.81,303.72 L294.86,303.67 L295.91,303.63 L296.96,303.58 L298.01,303.54 L299.06,303.49 L300.11,303.45 L301.16,303.40 L302.21,303.36 L303.26,303.31 L304.31,303.27 L305.36,303.22 L306.41,303.17 L307.46,303.13 L308.51,303.08 L309.56,303.03 L310.61,302.99 L311.66,302.94 L312.71,302.89 L313.76,302.85 L314.81,302.80 L315.86,302.75 L316.91,302.71 L317.96,302.66 L319.01,302.61 L320.06,302.56 L321.11,302.51 L322.16,302.47 L323.21,302.42 L324.26,302.37 L325.31,302.32 L326.36,302.27 L327.41,302.22 L328.46,302.17 L329.51,302.13 L330.56,302.08 L331.61,302.03 L332.66,301.98 L333.71,301.93 L334.76,301.88 L335.81,301.83 L336.86,301.78 L337.91,301.73 L338.96,301.68 L340.01,301.63 L341.06,301.58 L342.11,301.53 L343.16,301.48 L344.21,301.42 L345.26,301.37 L346.31,301.32 L347.36,301.27 L348.41,301.22 L349.46,301.17 L350.51,301.12 L351.56,301.06 L352.61,301.01 L353.66,300.96 L354.71,300.91 L355.76,300.86 L356.81,300.80 L357.86,300.75 L358.91,300.70 L359.96,300.65 L361.01,300.59 L362.06,300.54 L363.11,300.49 L364.16,300.43 L365.21,300.38 L366.26,300.33 L367.31,300.27 L368.36,300.22 L369.41,300.16 L370.46,300.11 L371.51,300.06 L372.56,300.00 L373.61,299.95 L374.66,299.89 L375.71,299.84 L376.76,299.78 L377.81,299.73 L378.86,299.67 L379.91,299.62 L380.96,299.56 L382.01,299.51 L383.06,299.45 L384.11,299.40 L385.16,299.34 L386.21,299.28 L387.26,299.23 L388.31,299.17 L389.36,299.12 L390.41,299.06 L391.46,299.00 L392.51,298.95 L393.56,298.89 L394.61,298.83 L395.66,298.78 L396.71,298.72 L397.76,298.66 L398.81,298.61 L399.86,298.55 L400.91,298.49 L401.96,298.43 L403.01,298.37 L404.06,298.32 L405.11,298.26 L406.16,298.20 L407.21,298.14 L408.26,298.08 L409.31,298.03 L410.36,297.97 L411.41,297.91 L412.46,297.85 L413.51,297.79 L414.56,297.73 L415.61,297.67 L416.66,297.61 L417.71,297.55 L418.76,297.49 L419.81,297.44 L420.86,297.38 L421.91,297.32 L422.96,297.26 L424.01,297.20 L425.06,297.14 L426.11,297.08 L427.16,297.02 L428.21,296.96 L429.26,296.89 L430.31,296.83 L431.36,296.77 L432.41,296.71 L433.46,296.65 L434.51,296.59 L435.56,296.53 L436.61,296.47 L437.66,296.41 L438.71,296.34 L439.76,296.28 L440.81,296.22 L441.86,296.16 L442.91,296.10 L443.96,296.04 L445.01,295.97 L446.06,295.91 L447.11,295.85 L448.16,295.79 L449.21,295.72 L450.26,295.66 L451.31,295.60 L452.36,295.54 L453.41,295.47 L454.46,295.41 L455.51,295.35 L456.56,295.28 L457.61,295.22 L458.66,295.16 L459.71,295.09 L460.76,295.03 L461.81,294.96 L462.86,294.90 L463.91,294.84 L464.96,294.77 L466.01,294.71 L467.06,294.64 L468.11,294.58 L469.16,294.51 L470.21,294.45 L471.26,294.39 L472.31,294.32 L473.36,294.26 L474.41,294.19 L475.46,294.13 L476.51,294.06 L477.56,293.99 L478.61,293.93 L479.66,293.86 L480.71,293.80 L481.76,293.73 L482.81,293.67 L483.86,293.60 L484.91,293.53 L485.96,293.47 L487.01,293.40 L488.06,293.34 L489.11,293.27 L490.16,293.20 L491.21,293.14 L492.26,293.07 L493.31,293.00 L494.36,292.93 L495.41,292.87 L496.46,292.80 L497.51,292.73 L498.56,292.67 L499.61,292.60 L500.66,292.53 L501.71,292.46 L502.76,292.40 L503.81,292.33 L504.86,292.26 L505.91,292.19 L506.96,292.12 L508.01,292.06 L509.06,291.99 L510.11,291.92 L511.16,291.85 L512.21,291.78 L513.26,291.71 L514.31,291.64 L515.36,291.57 L516.41,291.51 L517.46,291.44 L518.51,291.37 L519.56,291.30 L520.61,291.23 L521.66,291.16 L522.71,291.09 L523.76,291.02 L524.81,290.95 L525.86,290.88 L526.91,290.81 L527.96,290.74 L529.01,290.67 L530.06,290.60 L531.11,290.53 L532.17,290.46 L533.22,290.39 L534.27,290.32 L535.32,290.25 L536.37,290.18 L537.42,290.11 L538.47,290.03 L539.52,289.96 L540.57,289.89 L541.62,289.82 L542.67,289.75 L543.72,289.68 L544.77,289.61 L545.82,289.53 L546.87,289.46 L547.92,289.39 L548.97,289.32 L550.02,289.25 L551.07,289.18 L552.12,289.10 L553.17,289.03 L554.22,288.96 L555.27,288.89 L556.32,288.81 L557.37,288.74 L558.42,288.67 L559.47,288.59 L560.52,288.52" fill="none" stroke="#0000ff" stroke-width="3.4" stroke-dasharray="5 5" stroke-dashoffset="9.1"/>
<path d="M140.50,308.10 L141.56,308.10 L142.62,308.10 L143.67,308.10 L144.73,308.10 L145.79,308.10 L146.85,308.10 L147.91,308.10 L148.96,308.10 L150.02,308.10 L151.08,308.10 L152.14,308.10 L153.19,308.09 L154.25,308.09 L155.31,308.09 L156.37,308.09 L157.43,308.09 L158.48,308.09 L159.54,308.09 L160.60,308.09 L161.66,308.09 L162.71,308.09 L163.77,308.08 L164.83,308.08 L165.89,308.08 L166.95,308.08 L168.00,308.08 L169.06,308.08 L170.12,308.07 L171.18,308.07 L172.23,308.07 L173.29,308.07 L174.35,308.07 L175.41,308.07 L176.47,308.06 L177.52,308.06 L178.58,308.06 L179.64,308.06 L180.70,308.06 L181.75,308.05 L182.81,308.05 L183.87,308.05 L184.93,308.05 L185.99,308.04 L187.04,308.04 L188.10,308.04 L189.16,308.04 L190.22,308.03 L191.27,308.03 L192.33,308.03 L193.39,308.02 L194.45,308.02 L195.51,308.02 L196.56,308.02 L197.62,308.01 L198.68,308.01 L199.74,308.01 L200.79,308.00 L201.85,308.00 L202.91,308.00 L203.97,307.99 L205.03,307.99 L206.08,307.99 L207.14,307.98 L208.20,307.98 L209.26,307.98 L210.31,307.97 L211.37,307.97 L212.43,307.96 L213.49,307.96 L214.55,307.96 L215.60,307.95 L216.66,307.95 L217.72,307.94 L218.78,307.94 L219.83,307.94 L220.89,307.93 L221.95,307.93 L223.01,307.92 L224.07,307.92 L225.12,307.91 L226.18,307.91 L227.24,307.90 L228.30,307.90 L229.35,307.90 L230.41,307.89 L231.47,307.89 L232.53,307.88 L233.59,307.88 L234.64,307.87 L235.70,307.87 L236.76,307.86 L237.82,307.86 L238.87,307.85 L239.93,307.84 L240.99,307.84 L242.05,307.83 L243.11,307.83 L244.16,307.82 L245.22,307.82 L246.28,307.81 L247.34,307.81 L248.39,307.80 L249.45,307.79 L250.51,307.79 L251.57,307.78 L252.63,307.78 L253.68,307.77 L254.74,307.77 L255.80,307.76 L256.86,307.75 L257.91,307.75 L258.97,307.74 L260.03,307.73 L261.09,307.73 L262.15,307.72 L263.20,307.72 L264.26,307.71 L265.32,307.70 L266.38,307.70 L267.43,307.69 L268.49,307.68 L269.55,307.68 L270.61,307.67 L271.67,307.66 L272.72,307.65 L273.78,307.65 L274.84,307.64 L275.90,307.63 L276.95,307.63 L278.01,307.62 L279.07,307.61 L280.13,307.60 L281.19,307.60 L282.24,307.59 L283.30,307.58 L284.36,307.57 L285.42,307.57 L286.47,307.56 L287.53,307.55 L288.59,307.54 L289.65,307.54 L290.71,307.53 L291.76,307.52 L292.82,307.51 L293.88,307.50 L294.94,307.50 L295.99,307.49 L297.05,307.48 L298.11,307.47 L299.17,307.46 L300.23,307.45 L301.28,307.45 L302.34,307.44 L303.40,307.43 L304.46,307.42 L305.51,307.41 L306.57,307.40 L307.63,307.39 L308.69,307.38 L309.75,307.38 L310.80,307.37 L311.86,307.36 L312.92,307.35 L313.98,307.34 L315.03,307.33 L316.09,307.32 L317.15,307.31 L318.21,307.30 L319.27,307.29 L320.32,307.28 L321.38,307.27 L322.44,307.26 L323.50,307.26 L324.55,307.25 L325.61,307.24 L326.67,307.23 L327.73,307.22 L328.79,307.21 L329.84,307.20 L330.90,307.19 L331.96,307.18 L333.02,307.17 L334.07,307.16 L335.13,307.15 L336.19,307.14 L337.25,307.13 L338.31,307.11 L339.36,307.10 L340.42,307.09 L341.48,307.08 L342.54,307.07 L343.59,307.06 L344.65,307.05 L345.71,307.04 L346.77,307.03 L347.83,307.02 L348.88,307.01 L349.94,307.00 L351.00,306.99 L352.06,306.97 L353.11,306.96 L354.17,306.95 L355.23,306.94 L356.29,306.93 L357.35,306.92 L358.40,306.91 L359.46,306.90 L360.52,306.88 L361.58,306.87 L362.63,306.86 L363.69,306.85 L364.75,306.84 L365.81,306.83 L366.87,306.81 L367.92,306.80 L368.98,306.79 L370.04,306.78 L371.10,306.77 L372.15,306.75 L373.21,306.74 L374.27,306.73 L375.33,306.72 L376.39,306.70 L377.44,306.69 L378.50,306.68 L379.56,306.67 L380.62,306.65 L381.67,306.64 L382.73,306.63 L383.79,306.62 L384.85,306.60 L385.91,306.59 L386.96,306.58 L388.02,306.57 L389.08,306.55 L390.14,306.54 L391.19,306.53 L392.25,306.51 L393.31,306.50 L394.37,306.49 L395.43,306.47 L396.48,306.46 L397.54,306.45 L398.60,306.43 L399.66,306.42 L400.71,306.41 L401.77,306.39 L402.83,306.38 L403.89,306.36 L404.95,306.35 L406.00,306.34 L407.06,306.32 L408.12,306.31 L409.18,306.29 L410.23,306.28 L411.29,306.27 L412.35,306.25 L413.41,306.24 L414.47,306.22 L415.52,306.21 L416.58,306.19 L417.64,306.18 L418.70,306.17 L419.75,306.15 L420.81,306.14 L421.87,306.12 L422.93,306.11 L423.99,306.09 L425.04,306.08 L426.10,306.06 L427.16,306.05 L428.22,306.03 L429.27,306.02 L430.33,306.00 L431.39,305.99 L432.45,305.97 L433.50,305.96 L434.56,305.94 L435.62,305.92 L436.68,305.91 L437.74,305.89 L438.79,305.88 L439.85,305.86 L440.91,305.85 L441.97,305.83 L443.02,305.82 L444.08,305.80 L445.14,305.78 L446.20,305.77 L447.26,305.75 L448.31,305.74 L449.37,305.72 L450.43,305.70 L451.49,305.69 L452.54,305.67 L453.60,305.65 L454.66,305.64 L455.72,305.62 L456.78,305.60 L457.83,305.59 L458.89,305.57 L459.95,305.55 L461.01,305.54 L462.06,305.52 L463.12,305.50 L464.18,305.49 L465.24,305.47 L466.30,305.45 L467.35,305.44 L468.41,305.42 L469.47,305.40 L470.53,305.38 L471.58,305.37 L472.64,305.35 L473.70,305.33 L474.76,305.32 L475.82,305.30 L476.87,305.28 L477.93,305.26 L478.99,305.24 L480.05,305.23 L481.10,305.21 L482.16,305.19 L483.22,305.17 L484.28,305.16 L485.34,305.14 L486.39,305.12 L487.45,305.10 L488.51,305.08 L489.57,305.06 L490.62,305.05 L491.68,305.03 L492.74,305.01 L493.80,304.99 L494.86,304.97 L495.91,304.95 L496.97,304.94 L498.03,304.92 L499.09,304.90 L500.14,304.88 L501.20,304.86 L502.26,304.84 L503.32,304.82 L504.38,304.80 L505.43,304.78 L506.49,304.77 L507.55,304.75 L508.61,304.73 L509.66,304.71 L510.72,304.69 L511.78,304.67 L512.84,304.65 L513.90,304.63 L514.95,304.61 L516.01,304.59 L517.07,304.57 L518.13,304.55 L519.18,304.53 L520.24,304.51 L521.30,304.49 L522.36,304.47 L523.42,304.45 L524.47,304.43 L525.53,304.41 L526.59,304.39 L527.65,304.37 L528.70,304.35 L529.76,304.33 L530.82,304.31 L531.88,304.29 L532.94,304.27 L533.99,304.25 L535.05,304.23 L536.11,304.21 L537.17,304.19 L538.22,304.17 L539.28,304.15 L540.34,304.13 L541.40,304.10 L542.46,304.08 L543.51,304.06 L544.57,304.04 L545.63,304.02 L546.69,304.00 L547.74,303.98 L548.80,303.96 L549.86,303.93 L550.92,303.91 L551.98,303.89 L553.03,303.87 L554.09,303.85 L555.15,303.83 L556.21,303.81 L557.26,303.78 L558.32,303.76 L559.38,303.74 L560.44,303.72 L561.50,303.70 L562.55,303.67 L563.61,303.65" fill="none" stroke="#ff0000" stroke-width="3.5"/>
<path d="M138.00,308.10 v-4.20 M138.00,13.80 v4.20 M159.20,308.10 v-2.50 M159.20,13.80 v2.50 M180.40,308.10 v-2.50 M180.40,13.80 v2.50 M201.60,308.10 v-2.50 M201.60,13.80 v2.50 M222.80,308.10 v-4.20 M222.80,13.80 v4.20 M244.00,308.10 v-2.50 M244.00,13.80 v2.50 M265.20,308.10 v-2.50 M265.20,13.80 v2.50 M286.40,308.10 v-2.50 M286.40,13.80 v2.50 M307.60,308.10 v-4.20 M307.60,13.80 v4.20 M328.80,308.10 v-2.50 M328.80,13.80 v2.50 M350.00,308.10 v-2.50 M350.00,13.80 v2.50 M371.20,308.10 v-2.50 M371.20,13.80 v2.50 M392.40,308.10 v-4.20 M392.40,13.80 v4.20 M413.60,308.10 v-2.50 M413.60,13.80 v2.50 M434.80,308.10 v-2.50 M434.80,13.80 v2.50 M456.00,308.10 v-2.50 M456.00,13.80 v2.50 M477.20,308.10 v-4.20 M477.20,13.80 v4.20 M498.40,308.10 v-2.50 M498.40,13.80 v2.50 M519.60,308.10 v-2.50 M519.60,13.80 v2.50 M540.80,308.10 v-2.50 M540.80,13.80 v2.50 M562.00,308.10 v-4.20 M562.00,13.80 v4.20 M128.90,308.10 h4.20 M570.60,308.10 h-4.20 M128.90,289.71 h2.50 M570.60,289.71 h-2.50 M128.90,271.31 h2.50 M570.60,271.31 h-2.50 M128.90,252.92 h2.50 M570.60,252.92 h-2.50 M128.90,234.53 h4.20 M570.60,234.53 h-4.20 M128.90,216.13 h2.50 M570.60,216.13 h-2.50 M128.90,197.74 h2.50 M570.60,197.74 h-2.50 M128.90,179.34 h2.50 M570.60,179.34 h-2.50 M128.90,160.95 h4.20 M570.60,160.95 h-4.20 M128.90,142.56 h2.50 M570.60,142.56 h-2.50 M128.90,124.16 h2.50 M570.60,124.16 h-2.50 M128.90,105.77 h2.50 M570.60,105.77 h-2.50 M128.90,87.38 h4.20 M570.60,87.38 h-4.20 M128.90,68.98 h2.50 M570.60,68.98 h-2.50 M128.90,50.59 h2.50 M570.60,50.59 h-2.50 M128.90,32.19 h2.50 M570.60,32.19 h-2.50 M128.90,13.80 h4.20 M570.60,13.80 h-4.20" fill="none" stroke="#333" stroke-width="0.75"/>
<rect x="186.3" y="9.3" width="2.1" height="0.9" fill="#333"/>
<g font-family="Liberation Serif, serif" fill="#000" opacity="0.999" style="text-rendering:geometricPrecision">
<text x="51.70" y="240.73" font-size="20.0">2<tspan dx="-0.5">.</tspan></text><path d="M69.50,230.83 L79.10,240.43 M69.50,240.43 L79.10,230.83" stroke="#000" stroke-width="1.05" fill="none"/><text x="82.20" y="240.73" font-size="20.0" letter-spacing="-0.7">10</text><text x="101.30" y="232.53" font-size="13.5">−11</text>
<text x="51.70" y="167.15" font-size="20.0">4<tspan dx="-0.5">.</tspan></text><path d="M69.50,157.25 L79.10,166.85 M69.50,166.85 L79.10,157.25" stroke="#000" stroke-width="1.05" fill="none"/><text x="82.20" y="167.15" font-size="20.0" letter-spacing="-0.7">10</text><text x="101.30" y="158.95" font-size="13.5">−11</text>
<text x="51.70" y="93.58" font-size="20.0">6<tspan dx="-0.5">.</tspan></text><path d="M69.50,83.67 L79.10,93.28 M69.50,93.28 L79.10,83.67" stroke="#000" stroke-width="1.05" fill="none"/><text x="82.20" y="93.58" font-size="20.0" letter-spacing="-0.7">10</text><text x="101.30" y="85.38" font-size="13.5">−11</text>
<text x="51.70" y="20.00" font-size="20.0">8<tspan dx="-0.5">.</tspan></text><path d="M69.50,10.10 L79.10,19.70 M69.50,19.70 L79.10,10.10" stroke="#000" stroke-width="1.05" fill="none"/><text x="82.20" y="20.00" font-size="20.0" letter-spacing="-0.7">10</text><text x="101.30" y="11.80" font-size="13.5">−11</text>
<text x="123.20" y="314.30" font-size="20.0" text-anchor="end">0</text>
<text x="137.70" y="332.60" font-size="20.0" text-anchor="middle">0</text>
<text x="187.10" y="332.60" font-size="20.0">2<tspan dx="-0.5">.</tspan></text><path d="M204.90,322.70 L214.50,332.30 M204.90,332.30 L214.50,322.70" stroke="#000" stroke-width="1.05" fill="none"/><text x="217.60" y="332.60" font-size="20.0" letter-spacing="-0.7">10</text><text x="236.70" y="324.40" font-size="13.5">−40</text>
<text x="271.90" y="332.60" font-size="20.0">4<tspan dx="-0.5">.</tspan></text><path d="M289.70,322.70 L299.30,332.30 M289.70,332.30 L299.30,322.70" stroke="#000" stroke-width="1.05" fill="none"/><text x="302.40" y="332.60" font-size="20.0" letter-spacing="-0.7">10</text><text x="321.50" y="324.40" font-size="13.5">−40</text>
<text x="356.70" y="332.60" font-size="20.0">6<tspan dx="-0.5">.</tspan></text><path d="M374.50,322.70 L384.10,332.30 M374.50,332.30 L384.10,322.70" stroke="#000" stroke-width="1.05" fill="none"/><text x="387.20" y="332.60" font-size="20.0" letter-spacing="-0.7">10</text><text x="406.30" y="324.40" font-size="13.5">−40</text>
<text x="441.50" y="332.60" font-size="20.0">8<tspan dx="-0.5">.</tspan></text><path d="M459.30,322.70 L468.90,332.30 M459.30,332.30 L468.90,322.70" stroke="#000" stroke-width="1.05" fill="none"/><text x="472.00" y="332.60" font-size="20.0" letter-spacing="-0.7">10</text><text x="491.10" y="324.40" font-size="13.5">−40</text>
<text x="526.30" y="332.60" font-size="20.0">1<tspan dx="-0.5">.</tspan></text><path d="M544.10,322.70 L553.70,332.30 M544.10,332.30 L553.70,322.70" stroke="#000" stroke-width="1.05" fill="none"/><text x="556.80" y="332.60" font-size="20.0" letter-spacing="-0.7">10</text><text x="575.90" y="324.40" font-size="13.5">−39</text>
<text x="326.2" y="377.20" font-size="20.0" font-style="italic">k</text>
<path d="M327.6,358.8 c0.85,-2.1 1.8,-1.9 2.6,-0.8 s1.8,1.3 2.6,-0.8" stroke="#000" stroke-width="1.05" fill="none"/>
<text x="339.5" y="377.20" font-size="20.0">(</text>
<text x="346.2" y="377.20" font-size="20.0" font-style="italic">s</text>
<text x="353" y="370.00" font-size="13.5">−2</text>
<text x="366.8" y="377.20" font-size="20.0">)</text>
<g transform="translate(29,231) rotate(-90)">
<path d="M0.00,-8 l1.9,-1.3" stroke="#000" stroke-width="0.8" fill="none"/><path d="M1.90,-9.3 L5.60,4.3" stroke="#000" stroke-width="2.4" fill="none"/><path d="M5.60,4.3 L12.40,-22.5 H34.00" stroke="#000" stroke-width="1" fill="none"/>
<text x="17.6" y="0" font-size="17.2" font-style="italic">k</text>
<text x="36.2" y="0" font-size="16.8" font-style="italic">r</text>
<text x="44.2" y="4.3" font-size="13.5">AB</text>
<path d="M64.3,-5.7 H74.3" stroke="#000" stroke-width="1.0"/>
<path d="M79.00,-8 l1.9,-1.3" stroke="#000" stroke-width="0.8" fill="none"/><path d="M80.90,-9.3 L84.60,4.3" stroke="#000" stroke-width="2.4" fill="none"/><path d="M84.60,4.3 L91.40,-22.5 H113.00" stroke="#000" stroke-width="1" fill="none"/>
<text x="96.6" y="0" font-size="17.2" font-style="italic">k</text>
<text x="115.2" y="0" font-size="16.8" font-style="italic">r</text>
<path d="M115.7,-10.9 c1,-2.1 2.1,-1.9 3.1,-0.8 s2.1,1.3 3.1,-0.8" stroke="#000" stroke-width="1.1" fill="none"/>
<text x="123.1" y="4.3" font-size="13.5">AB<tspan dx="-0.6">′</tspan></text>
</g>
</g>
</svg>
</body></html>
